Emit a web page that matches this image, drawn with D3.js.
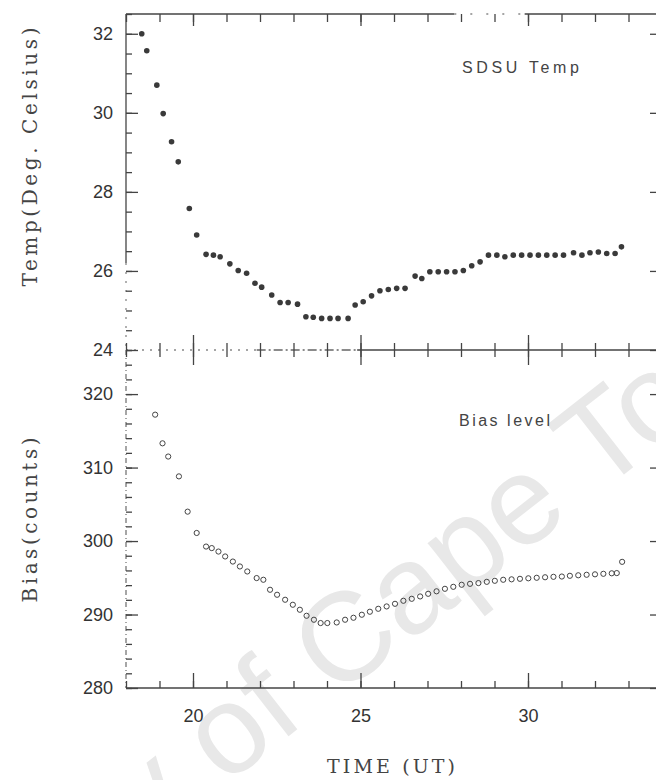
<!DOCTYPE html>
<html>
<head>
<meta charset="utf-8">
<script src="https://cdn.jsdelivr.net/npm/d3@7/dist/d3.min.js"></script>
<style>
  body { margin: 0; background: #fff; }
</style>
</head>
<body>
<div id="viz"></div>
<script>
"use strict";

var w = 656;
var h = 780;

// time axis (UT hours)
var timeLabels = [20, 25, 30];

// SDSU temperature, deg C
var tempTime = [18.47, 18.62, 18.92, 19.11, 19.36, 19.56, 19.89, 20.11, 20.39, 20.61,
  20.81, 21.10, 21.35, 21.60, 21.85, 22.05, 22.35, 22.60, 22.84, 23.12,
  23.37, 23.59, 23.84, 24.09, 24.33, 24.63, 24.84, 25.08, 25.33, 25.58,
  25.83, 26.08, 26.33, 26.63, 26.83, 27.07, 27.32, 27.57, 27.82, 28.07,
  28.32, 28.57, 28.82, 29.07, 29.31, 29.56, 29.81, 30.06, 30.31, 30.56,
  30.81, 31.06, 31.36, 31.61, 31.85, 32.10, 32.35, 32.60, 32.79];
var tempVal = [32.00, 31.57, 30.70, 29.98, 29.27, 28.76, 27.58, 26.91, 26.42, 26.40,
  26.36, 26.18, 26.01, 25.94, 25.69, 25.59, 25.39, 25.20, 25.20, 25.16,
  24.84, 24.83, 24.80, 24.80, 24.80, 24.80, 25.14, 25.22, 25.37, 25.50,
  25.53, 25.56, 25.56, 25.87, 25.81, 25.98, 25.98, 25.98, 25.98, 26.01,
  26.13, 26.23, 26.40, 26.40, 26.36, 26.40, 26.40, 26.40, 26.40, 26.40,
  26.40, 26.40, 26.46, 26.40, 26.46, 26.48, 26.44, 26.44, 26.61];
var tempLabels = [24, 26, 28, 30, 32];

// bias level, counts
var biasTime = [18.87, 19.09, 19.26, 19.58, 19.84, 20.11, 20.39, 20.56, 20.76, 20.96,
  21.19, 21.40, 21.62, 21.90, 22.10, 22.30, 22.51, 22.75, 22.98, 23.19,
  23.39, 23.61, 23.81, 24.01, 24.29, 24.54, 24.79, 25.04, 25.28, 25.53,
  25.78, 26.03, 26.28, 26.53, 26.78, 27.02, 27.27, 27.52, 27.77, 28.02,
  28.27, 28.52, 28.77, 29.01, 29.26, 29.51, 29.76, 30.01, 30.26, 30.51,
  30.76, 31.01, 31.25, 31.50, 31.75, 32.00, 32.25, 32.50, 32.65, 32.81];
var biasVal = [317.2, 313.3, 311.5, 308.8, 304.0, 301.1, 299.25, 299.04, 298.57, 297.90,
  297.21, 296.54, 295.86, 294.96, 294.73, 293.37, 292.69, 292.01, 291.33, 290.65,
  289.83, 289.29, 288.84, 288.84, 288.92, 289.29, 289.56, 289.97, 290.38, 290.78,
  291.10, 291.46, 291.87, 292.14, 292.46, 292.82, 293.16, 293.50, 293.77, 294.05,
  294.18, 294.28, 294.45, 294.59, 294.73, 294.79, 294.86, 294.93, 295.00, 295.07,
  295.13, 295.17, 295.27, 295.34, 295.41, 295.47, 295.54, 295.61, 295.64, 297.17];
var biasLabels = [280, 290, 300, 310, 320];

var svg = d3.select("#viz")
  .append("svg")
  .attr("width", w)
  .attr("height", h)
  .style("display", "block");

var x = d3.scaleLinear().domain([18, 34]).range([126, 662]);
var yTemp = d3.scaleLinear().domain([24, 32.5]).range([350, 14]);
var yBias = d3.scaleLinear().domain([280, 326]).range([688, 350]);

var ink = "#3a3a3a";
var sans = "Liberation Sans, Arial, sans-serif";
var serif = "DejaVu Serif, Liberation Serif, serif";

// watermark of the scanned page
var wm = svg.append("g")
  .attr("transform", "translate(335,700) rotate(-38)");
var wmText = wm.append("text")
  .attr("font-family", sans)
  .attr("font-size", 126)
  .attr("fill", "#e8e8e8")
  .text("University of Cape Town");
wmText.attr("x", -wmText.node().getSubStringLength(0, 14));

// frame lines (some parts are broken, like in the scan)
function frameLine(x1, y1, x2, y2, dash, color) {
  svg.append("line")
    .attr("x1", x1).attr("y1", y1)
    .attr("x2", x2).attr("y2", y2)
    .attr("stroke", color || "#444")
    .attr("stroke-width", 1.3)
    .attr("stroke-dasharray", dash || null);
}

frameLine(x(18), yTemp(32.5), x(27.8), yTemp(32.5));
frameLine(x(27.8), yTemp(32.5), x(29.9), yTemp(32.5), "2,14", "#888");
frameLine(x(29.9), yTemp(32.5), x(34), yTemp(32.5));
frameLine(x(18), yTemp(24), x(21.9), yTemp(24), "2,6", "#888");
frameLine(x(21.9), yTemp(24), x(24.9), yTemp(24), "9,3,2,3", "#666");
frameLine(x(24.9), yTemp(24), x(34), yTemp(24));
frameLine(x(18), yTemp(32.5), x(18), yTemp(26.2));
frameLine(x(18), yTemp(26.2), x(18), yTemp(24), "2,7", "#888");
frameLine(x(18), yBias(326), x(18), yBias(280), "5,3,1,3", "#777");
frameLine(x(18), yBias(280), x(34), yBias(280));
frameLine(x(34), yTemp(32.5), x(34), yBias(280));

// ticks
function ticks(axisFn, scale, values, size, fmt) {
  return axisFn(scale)
    .tickValues(values)
    .tickSizeInner(size)
    .tickSizeOuter(0)
    .tickFormat(fmt || "");
}

function place(axis, tx, ty) {
  var g = svg.append("g")
    .attr("transform", "translate(" + tx + "," + ty + ")")
    .call(axis);
  g.select(".domain").remove();
  g.selectAll("line").attr("stroke", "#444").attr("stroke-width", 1.3);
  g.selectAll("text")
    .attr("font-family", sans)
    .attr("font-size", 18)
    .attr("fill", "#333");
  return g;
}

var timeMinor = d3.range(18, 35, 1);
var tempMinor = d3.range(24, 32.6, 0.5);
var biasMinor = d3.range(280, 327, 2);

// time ticks: top border, middle line (both ways), bottom
place(ticks(d3.axisTop, x, timeMinor, -8), 0, yTemp(32.5));
place(ticks(d3.axisTop, x, timeLabels, -12), 0, yTemp(32.5));
place(ticks(d3.axisBottom, x, timeMinor, -7), 0, yTemp(24));
place(ticks(d3.axisBottom, x, timeLabels, -15), 0, yTemp(24));
place(ticks(d3.axisTop, x, timeMinor, -7), 0, yBias(326));
place(ticks(d3.axisTop, x, timeLabels, -15), 0, yBias(326));
place(ticks(d3.axisBottom, x, timeMinor, -7), 0, yBias(280));
place(ticks(d3.axisBottom, x, timeLabels, -15, d3.format("d")).tickPadding(21), 0, yBias(280));

// temperature ticks
place(ticks(d3.axisLeft, yTemp, tempMinor, -6), x(18), 0);
place(ticks(d3.axisLeft, yTemp, tempLabels, -12, d3.format("d")).tickPadding(13), x(18), 0);
place(ticks(d3.axisRight, yTemp, tempMinor, -6), x(34), 0);
place(ticks(d3.axisRight, yTemp, tempLabels, -12), x(34), 0);

// bias ticks
place(ticks(d3.axisLeft, yBias, biasMinor, -6), x(18), 0);
place(ticks(d3.axisLeft, yBias, biasLabels, -12, d3.format("d")).tickPadding(13), x(18), 0);
place(ticks(d3.axisRight, yBias, biasMinor, -6), x(34), 0);
place(ticks(d3.axisRight, yBias, biasLabels, -12), x(34), 0);

// Temperature points
svg.append("g")
  .selectAll("circle.temp")
  .data(tempTime).enter()
  .append("circle")
  .classed("temp", true)
  .attr("cx", function(d) { return x(d); })
  .attr("cy", function(d, i) { return yTemp(tempVal[i]); })
  .attr("r", 2.8)
  .attr("fill", ink);

// Bias points
svg.append("g")
  .selectAll("circle.bias")
  .data(biasTime).enter()
  .append("circle")
  .classed("bias", true)
  .attr("cx", function(d) { return x(d); })
  .attr("cy", function(d, i) { return yBias(biasVal[i]); })
  .attr("r", 2.6)
  .attr("fill", "none")
  .attr("stroke", "#444")
  .attr("stroke-width", 1);

// panel captions
svg.append("text")
  .attr("x", x(28.03))
  .attr("y", yTemp(31.0))
  .attr("font-family", sans)
  .attr("font-size", 16)
  .attr("fill", "#444")
  .attr("textLength", 117)
  .attr("lengthAdjust", "spacing")
  .text("SDSU Temp");

svg.append("text")
  .attr("x", x(27.94))
  .attr("y", yBias(315.7))
  .attr("font-family", sans)
  .attr("font-size", 16)
  .attr("fill", "#444")
  .attr("textLength", 91)
  .attr("lengthAdjust", "spacing")
  .text("Bias level");

// axis titles
svg.append("text")
  .attr("transform", "translate(37,157) rotate(-90)")
  .attr("text-anchor", "middle")
  .attr("font-family", serif)
  .attr("font-size", 20)
  .attr("fill", "#444")
  .attr("textLength", 259)
  .attr("lengthAdjust", "spacing")
  .text("Temp(Deg. Celsius)");

svg.append("text")
  .attr("transform", "translate(37,520) rotate(-90)")
  .attr("text-anchor", "middle")
  .attr("font-family", serif)
  .attr("font-size", 20)
  .attr("fill", "#444")
  .attr("textLength", 165)
  .attr("lengthAdjust", "spacing")
  .text("Bias(counts)");

svg.append("text")
  .attr("x", (x(18) + x(34)) / 2 - 3)
  .attr("y", 773)
  .attr("text-anchor", "middle")
  .attr("font-family", serif)
  .attr("font-size", 19)
  .attr("fill", "#444")
  .attr("textLength", 128)
  .attr("lengthAdjust", "spacing")
  .text("TIME (UT)");
</script>
</body>
</html>
